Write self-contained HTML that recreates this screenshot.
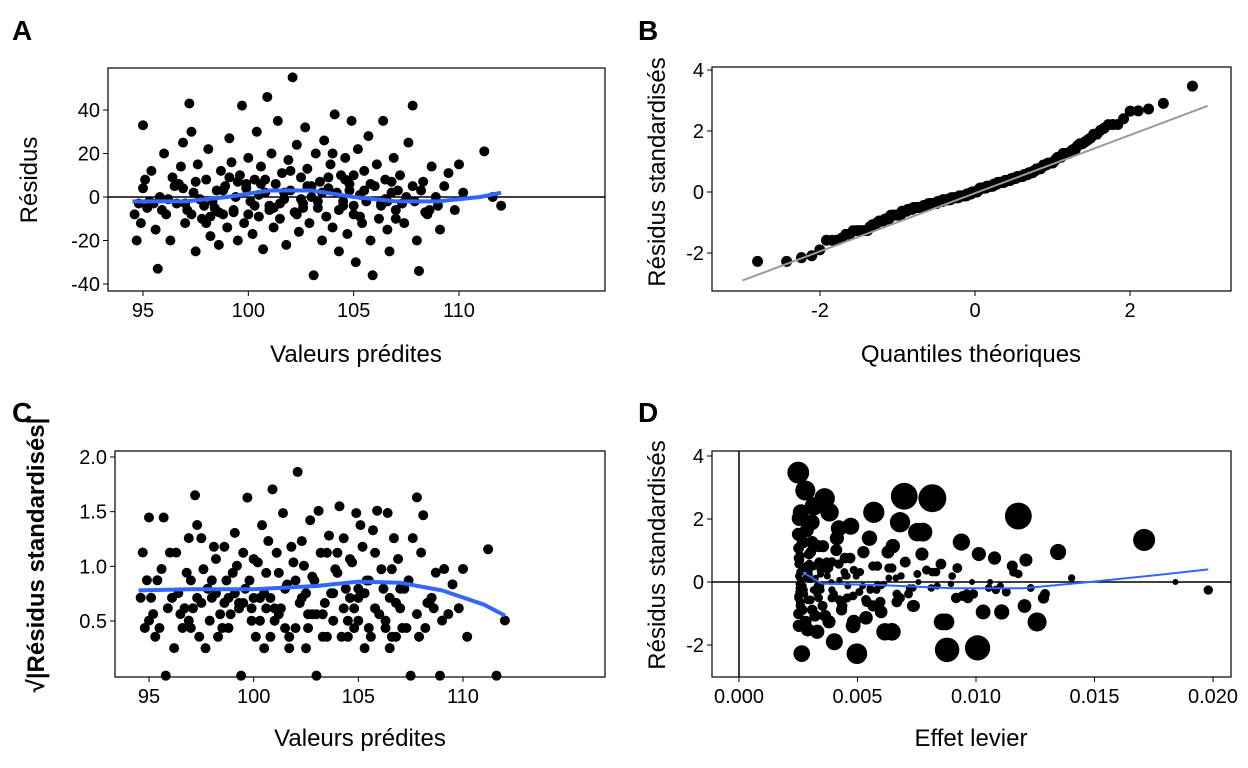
<!DOCTYPE html>
<html><head><meta charset="utf-8"><style>
body{margin:0;background:#fff}
svg{display:block;font-family:"Liberation Sans",sans-serif}
</style></head><body>
<svg id="s" width="1248" height="768"></svg>
<script>
const fitted=[94.6,94.7,94.9,95.0,95.1,95.2,95.3,95.4,95.6,95.7,95.8,96.0,96.1,96.3,96.5,96.6,96.8,96.9,97.0,97.1,97.2,97.3,97.4,97.5,97.6,97.8,97.9,98.0,98.1,98.2,98.3,98.5,98.6,98.7,98.8,98.9,99.0,99.1,99.2,99.3,99.4,99.5,99.6,99.7,99.8,99.9,100.0,100.1,100.2,100.3,100.4,100.5,100.6,100.7,100.8,100.9,101.0,101.1,101.2,101.3,101.4,101.5,101.6,101.7,101.8,101.9,102.0,102.1,102.2,102.3,102.4,102.5,102.6,102.7,102.8,102.9,103.0,103.1,103.2,103.3,103.4,103.5,103.6,103.7,103.8,103.9,104.0,104.1,104.2,104.3,104.4,104.5,104.6,104.7,104.8,104.9,105.0,105.1,105.2,105.3,105.4,105.5,105.6,105.7,105.8,105.9,106.0,106.1,106.2,106.3,106.4,106.5,106.6,106.7,106.8,106.9,107.0,107.2,107.4,107.6,107.8,107.9,108.0,108.1,108.3,108.5,108.7,108.9,109.1,109.3,109.5,109.8,110.0,110.2,111.2,111.6,112.0,96.2,97.7,98.4,99.5,100.5,101.5,102.5,103.5,104.5,105.5,106.5,107.5,95.5,96.7,98.0,100.0,102.0,104.0,105.0,107.0,108.2,109.0,
95.0,95.9,96.4,97.0,97.5,98.2,98.8,99.3,99.9,100.3,100.8,101.2,101.7,102.3,102.8,103.3,103.8,104.3,104.8,105.3,105.8,106.3,106.8,107.3,107.8,108.6,94.8,96.9,98.6,100.6,102.6,104.6,106.6,108.4,97.3,99.1,101.0,103.0,105.0,107.1];
const resid=[-8,-20,-12,33,8,-5,-2,12,-15,-33,0,20,-8,-20,5,-3,14,25,-12,-6,43,30,2,-25,15,-10,-4,8,22,-18,-2,3,-22,12,-8,5,-14,27,16,-6,0,-20,10,42,-12,4,18,-2,-17,8,30,-9,14,-24,2,46,-4,20,-14,6,35,-10,11,-1,-22,17,3,55,-7,24,-16,9,-3,32,13,-12,0,-36,20,-5,7,-20,26,-9,4,15,-14,38,2,-25,10,-4,18,-17,6,35,-8,-30,22,1,-12,12,-2,28,-20,-36,5,15,-10,-3,35,8,-15,-25,2,18,-6,10,-12,25,42,-2,-20,-34,7,-8,14,0,-15,5,11,-6,15,2,21,0,-4,-1,-1,-5,7,1,-3,-1,2,-2,3,-1,0,-3,6,-12,-8,12,20,10,-10,3,-4,
4,-6,9,-3,7,-9,3,-7,6,-4,8,-5,2,-8,5,-2,9,-6,3,-9,6,-4,7,-3,5,-6,-3,4,-7,6,-5,8,-2,-7,-8,9,-6,5,-4,3];
// smoothers
const smoothAx=[94.5,97,99,101,103,105,107,109,111,112];
const smoothAy=[-2,-2,0,3,3,0,-2,-2,0,2];
const smoothCx=[94.5,97,100,103,105,107,109,111,112];
const smoothCy=[0.78,0.79,0.79,0.82,0.86,0.85,0.78,0.65,0.55];
const smoothDx=[0.0027,0.0035,0.006,0.009,0.012,0.0148,0.018,0.0198];
const smoothDy=[0.3,-0.05,-0.1,-0.2,-0.2,0.0,0.25,0.4];
const ticksA=[95,100,105,110], ticksAy=[-40,-20,0,20,40];
const ticksB=[-2,0,2], ticksBy=[-2,0,2,4];
const ticksCy=[0.5,1.0,1.5,2.0];
const ticksD=[0,0.005,0.010,0.015,0.020], ticksDlab=["0.000","0.005","0.010","0.015","0.020"], ticksDy=[-2,0,2,4];

const S=document.getElementById('s');const NS='http://www.w3.org/2000/svg';
function el(t,a,p){const e=document.createElementNS(NS,t);for(const k in a)e.setAttribute(k,a[k]);(p||S).appendChild(e);return e;}
function lin(d0,d1,r0,r1){return v=>r0+(v-d0)*(r1-r0)/(d1-d0);}
function txt(x,y,s,o,name){const t=el('text',Object.assign({x:x,y:y,'font-size':19,fill:'#000'},o||{}));t.textContent=s;return t;}

const n=fitted.length;
const mean=fitted.reduce((a,b)=>a+b,0)/n;
const sd=Math.sqrt(resid.reduce((a,b)=>a+b*b,0)/(n-2));
const N=400;
const maxdev=Math.max(...fitted.map(x=>Math.abs(x-mean)));
const vx=maxdev*maxdev/(N*0.0173);
const lev=fitted.map(x=>1/N+(x-mean)*(x-mean)/(N*vx));
const std=resid.map((r,i)=>r/sd/Math.sqrt(1-lev[i]));
const cook=std.map((r,i)=>r*r*lev[i]/(2*(1-lev[i])));
const cmax=Math.max(...cook);
function qnorm(p){const a=[-39.6968302866538,220.946098424521,-275.928510446969,138.357751867269,-30.6647980661472,2.50662827745924],b=[-54.4760987982241,161.585836858041,-155.698979859887,66.8013118877197,-13.2806815528857],c=[-0.00778489400243029,-0.322396458041136,-2.40075827716184,-2.54973253934373,4.37466414146497,2.93816398269878],d=[0.00778469570904146,0.32246712907004,2.445134137143,3.75440866190742];let q,r;if(p<0.02425){q=Math.sqrt(-2*Math.log(p));return(((((c[0]*q+c[1])*q+c[2])*q+c[3])*q+c[4])*q+c[5])/((((d[0]*q+d[1])*q+d[2])*q+d[3])*q+1);}if(p>1-0.02425){q=Math.sqrt(-2*Math.log(1-p));return-(((((c[0]*q+c[1])*q+c[2])*q+c[3])*q+c[4])*q+c[5])/((((d[0]*q+d[1])*q+d[2])*q+d[3])*q+1);}q=p-0.5;r=q*q;return(((((a[0]*r+a[1])*r+a[2])*r+a[3])*r+a[4])*r+a[5])*q/(((((b[0]*r+b[1])*r+b[2])*r+b[3])*r+b[4])*r+1);}

function frame(x0,y0,x1,y1,name){const r=el('rect',{x:x0,y:y0,width:x1-x0,height:y1-y0,fill:'none',stroke:'#000','stroke-width':1.2});}
function xt(vals,labs,sx,y,name){vals.forEach((v,i)=>{el('line',{x1:sx(v),x2:sx(v),y1:y,y2:y+5,stroke:'#000'});txt(sx(v),y+26,labs[i],{'text-anchor':'middle','font-size':20},name);});}
function yt(vals,labs,sy,x,name){vals.forEach((v,i)=>{el('line',{x1:x-5,x2:x,y1:sy(v),y2:sy(v),stroke:'#000'});txt(x-8,sy(v)+7,labs[i],{'text-anchor':'end','font-size':20},name);});}
function path(xs,ys,sx,sy,o,name){const p=el('path',Object.assign({d:xs.map((v,i)=>(i?'L':'M')+sx(v)+','+sy(ys[i])).join(''),fill:'none'},o));}
function ytitle(x,y,s,name,o){txt(x,y,s,Object.assign({'font-size':24,'text-anchor':'middle',transform:`rotate(-90 ${x} ${y})`},o||{}),name);}

// Panel A
{const sx=lin(95,110,143,459),sy=lin(0,40,197,110);
frame(108,68,605,291,'panel-a-frame');
el('line',{x1:108,x2:605,y1:sy(0),y2:sy(0),stroke:'#000','stroke-width':1.5});
fitted.forEach((x,i)=>{const c=el('circle',{cx:sx(x),cy:sy(resid[i]),r:5,fill:'#000'});});
path(smoothAx,smoothAy,sx,sy,{stroke:'#3366FF','stroke-width':4},'smooth-a');
xt(ticksA,ticksA.map(String),sx,291,'x-tick-a');yt(ticksAy,ticksAy.map(String),sy,108,'y-tick-a');
txt(356,362,'Valeurs prédites',{'font-size':24,'text-anchor':'middle'},'x-axis-title-a');
ytitle(37,180,'Résidus','y-axis-title-a');
txt(12,40,'A',{'font-size':28,'font-weight':'bold'},'panel-label-a');}
// Panel B
{const sx=lin(0,2,975,1130),sy=lin(0,2,192,131);
frame(712,67,1231,291,'panel-b-frame');
const ord=std.slice().sort((a,b)=>a-b);
const tq=ord.map((v,i)=>qnorm((i+0.5)/n));
ord.forEach((v,i)=>{const c=el('circle',{cx:sx(tq[i]),cy:sy(v),r:5.5,fill:'#000'});});
path([-3,3],[-2.9,2.82],sx,sy,{stroke:'#999','stroke-width':2},'qq-line');
xt(ticksB,ticksB.map(String),sx,291,'x-tick-b');yt(ticksBy,ticksBy.map(String),sy,712,'y-tick-b');
txt(971,362,'Quantiles théoriques',{'font-size':24,'text-anchor':'middle'},'x-axis-title-b');
ytitle(665,172,'Résidus standardisés','y-axis-title-b');
txt(638,40,'B',{'font-size':28,'font-weight':'bold'},'panel-label-b');}
// Panel C
{const sx=lin(95,110,149,463),sy=lin(0.5,2.0,621,457);
frame(115,451,605,677,'panel-c-frame');
fitted.forEach((x,i)=>{const c=el('circle',{cx:sx(x),cy:sy(Math.sqrt(Math.abs(std[i]))),r:5,fill:'#000'});});
path(smoothCx,smoothCy,sx,sy,{stroke:'#3366FF','stroke-width':4},'smooth-c');
xt(ticksA,ticksA.map(String),sx,677,'x-tick-c');yt(ticksCy,ticksCy.map(v=>v.toFixed(1)),sy,115,'y-tick-c');
txt(360,746,'Valeurs prédites',{'font-size':24,'text-anchor':'middle'},'x-axis-title-c');
ytitle(44,555,'√|Résidus standardisés|','y-axis-title-c',{'font-weight':'bold'});
txt(12,422,'C',{'font-size':28,'font-weight':'bold'},'panel-label-c');}
// Panel D
{const sx=lin(0,0.02,739,1213),sy=lin(0,2,582,519);
frame(712,451,1231,677,'panel-d-frame');
el('line',{x1:712,x2:1231,y1:sy(0),y2:sy(0),stroke:'#000','stroke-width':1.5});
el('line',{x1:sx(0),x2:sx(0),y1:451,y2:677,stroke:'#000','stroke-width':1.5});
fitted.forEach((x,i)=>{const c=el('circle',{cx:sx(lev[i]),cy:sy(std[i]),r:3+11*Math.sqrt(cook[i]/cmax),fill:'#000'});});
path(smoothDx,smoothDy,sx,sy,{stroke:'#3366FF','stroke-width':2},'smooth-d');
xt(ticksD,ticksDlab,sx,677,'x-tick-d');yt(ticksDy,ticksDy.map(String),sy,712,'y-tick-d');
txt(971,746,'Effet levier',{'font-size':24,'text-anchor':'middle'},'x-axis-title-d');
ytitle(665,555,'Résidus standardisés','y-axis-title-d');
txt(638,422,'D',{'font-size':28,'font-weight':'bold'},'panel-label-d');}
</script>
</body></html>
